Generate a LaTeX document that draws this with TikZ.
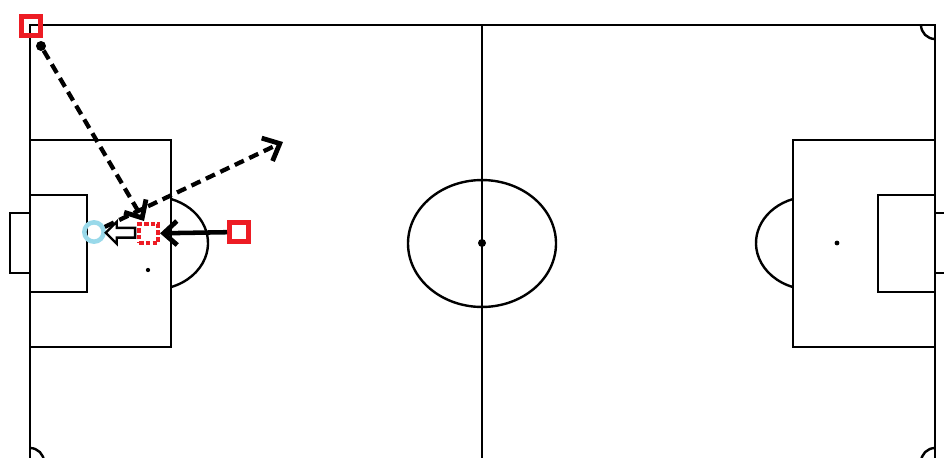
\documentclass[tikz,border=0pt]{standalone}
\usetikzlibrary{arrows.meta,shapes.arrows,calc}
\definecolor{pred}{HTML}{ED1C24}
\definecolor{pblue}{HTML}{99D9EA}
\tikzset{
  pitch/.style={line width=1.8pt,black},
  attacker/.style={draw=pred,line width=4pt,rectangle,minimum size=14pt,inner sep=0pt},
  ghost/.style={draw=pred,line width=3.4pt,rectangle,minimum size=14pt,inner sep=0pt,dash pattern=on 3.4pt off 1.6pt},
  keeper/.style={draw=pblue,line width=3.4pt,circle,minimum size=14.5pt,inner sep=0pt},
  ballnode/.style={fill=black,circle,minimum size=7.5pt,inner sep=0pt},
  passline/.style={line width=3.2pt,dash pattern=on 7.5pt off 4.5pt,-{Straight Barb[length=10.5pt,width=19pt,line width=3.6pt]}},
  runline/.style={line width=3.4pt,-{Straight Barb[length=10pt,width=18pt,line width=3.6pt]}},
  moveout/.style={single arrow,draw,line width=1.8pt,shape border rotate=180,single arrow head extend=4.5pt,minimum height=22pt,inner sep=2.8pt,single arrow head indent=0pt}
}
\begin{document}
\begin{tikzpicture}[x=0.75pt,y=-0.75pt]
\useasboundingbox (0,0) rectangle (944,457);
\clip (0,0) rectangle (944,457);
\fill[white] (0,0) rectangle (944,457);
% pitch
\draw[pitch] (30,25) rectangle (935,462);
\draw[pitch] (482,25) -- (482,462);
\draw[pitch] (482,243.5) ellipse [x radius=55.5pt, y radius=47.6pt];
\fill (482,243) circle [radius=3pt];
% left side
\draw[pitch] (30,140) rectangle (171,347);
\draw[pitch] (30,195) rectangle (87,292);
\draw[pitch] (30,213) -- (10,213) -- (10,273) -- (30,273);
\fill (148,270) circle [radius=1.6pt];
\draw[pitch] (171,199) arc [start angle=70.9, end angle=-70.9, x radius=41.25pt, y radius=34.95pt];
% right side
\draw[pitch] (935,140) rectangle (793,347);
\draw[pitch] (935,195) rectangle (878,292);
\draw[pitch] (935,213) -- (950,213);
\draw[pitch] (935,273) -- (950,273);
\fill (837,243) circle [radius=1.8pt];
\draw[pitch] (793,199) arc [start angle=109.1, end angle=250.9, x radius=41.25pt, y radius=34.95pt];
% corner arcs
\draw[pitch] (921,25) arc [start angle=180, end angle=270, radius=10.5pt];
\draw[pitch] (30,448) arc [start angle=90, end angle=0, radius=10.5pt];
\draw[pitch] (921,462) arc [start angle=180, end angle=90, radius=10.5pt];
% players
\node[attacker] (r1) at (31,26) {};
\node[ballnode] (ball) at (41,46) {};
\node[keeper] (gk) at (94,232) {};
\node[ghost] (ds) at (148.5,233.5) {};
\node[attacker] (r2) at (239,232) {};
\coordinate (passend) at (144,221);
\coordinate (runend) at (283,142);
% movements
\draw[passline] (ball) -- (passend);
\draw[passline] (gk) -- (runend);
\draw[runline] (r2) -- (ds);
\node[moveout] (mv) at ($(ds.west)!0.5!(gk.east)+(1.5,0)$) {};
\end{tikzpicture}
\end{document}
